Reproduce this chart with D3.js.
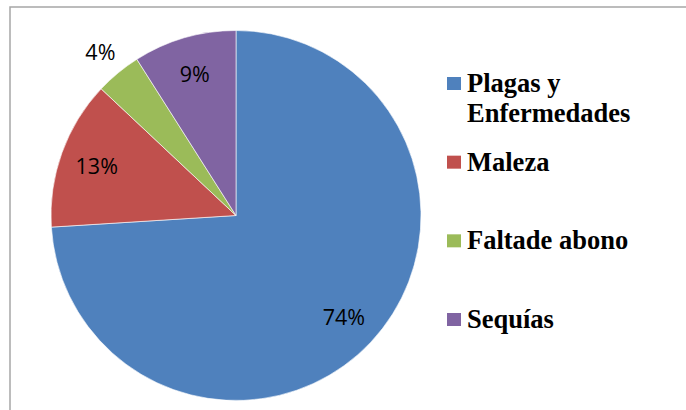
<!DOCTYPE html>
<html><head><meta charset="utf-8">
<script src="https://cdn.jsdelivr.net/npm/d3@7"></script>
<style>html,body{margin:0;padding:0;background:#fff;}svg{display:block;}</style>
</head><body>
<svg id="c" width="686" height="410"></svg>
<script>
const categories = ["Plagas y Enfermedades", "Maleza", "Faltade abono", "Sequías"];
const legendLines = [["Plagas y", "Enfermedades"], ["Maleza"], ["Faltade abono"], ["Sequías"]];
const values = [74, 13, 4, 9];
const labels = ["74%", "13%", "4%", "9%"];
const colors = ["#4F81BD", "#C0504D", "#9BBB59", "#8064A2"];

const svg = d3.select("#c");
svg.append("rect").attr("x", 10).attr("y", 7).attr("width", 700).attr("height", 430)
  .attr("fill", "#fff").attr("stroke", "#a6a6a6").attr("stroke-width", 1.5);

const cx = 236, cy = 215.5, R = 185;
const pie = d3.pie().sort(null).value(d => d)(values);
const arc = d3.arc().innerRadius(0).outerRadius(R);
const g = svg.append("g").attr("transform", `translate(${cx},${cy})`);
g.selectAll("path").data(pie).join("path")
  .attr("d", arc).attr("fill", (d, i) => colors[i])
  .attr("stroke", "#fff").attr("stroke-width", 0.6);

const inArc = d3.arc().innerRadius(R * 0.8).outerRadius(R * 0.8);
const outArc = d3.arc().innerRadius(R * 1.15).outerRadius(R * 1.15);
g.selectAll("text").data(pie).join("text")
  .attr("transform", (d, i) => {
    const p = (values[i] < 5 ? outArc : inArc).centroid(d);
    return `translate(${p[0]},${p[1]})`;
  })
  .attr("text-anchor", "middle").attr("dominant-baseline", "central")
  .attr("font-family", "'Open Sans', sans-serif").attr("font-size", 21.5)
  .attr("fill", "#000").text((d, i) => labels[i]);

const legendY = d3.scalePoint().domain(categories).range([84, 320]);
const lg = svg.append("g");
categories.forEach((c, i) => {
  const y = legendY(c);
  const gi = lg.append("g");
  gi.append("rect").attr("x", 447).attr("y", y - 7).attr("width", 14).attr("height", 13).attr("fill", colors[i]);
  const t = gi.append("text").attr("x", 467).attr("y", y + 8)
    .attr("font-family", "'Liberation Serif', 'Times New Roman', serif")
    .attr("font-weight", "bold").attr("font-size", 26.5).attr("fill", "#000");
  legendLines[i].forEach((l, j) => {
    t.append("tspan").attr("x", 467).attr("dy", j === 0 ? 0 : 30).text(l);
  });
});
</script>
</body></html>
